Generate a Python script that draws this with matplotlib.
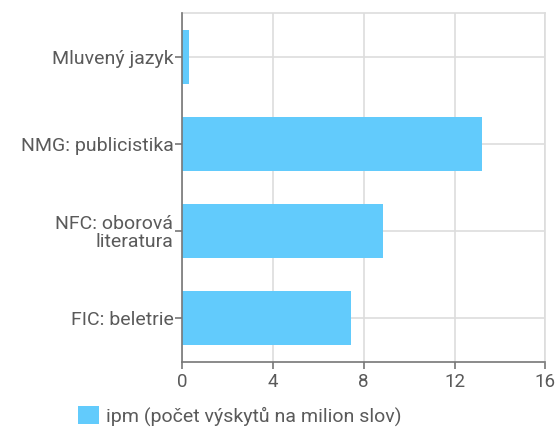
import matplotlib
matplotlib.use('Agg')
import matplotlib.pyplot as plt
from matplotlib.patches import Patch

# data
categories = ['Mluvený jazyk', 'NMG: publicistika', 'NFC: oborová\nliteratura', 'FIC: beletrie']
ipm = [0.3, 13.2, 8.85, 7.45]
xticks = [0, 4, 8, 12, 16]
legend_label = 'ipm (počet výskytů na milion slov)'

plt.rcParams['font.family'] = ['Roboto', 'DejaVu Sans']
text_col = '#5a5a5a'
bar_col = '#62cbfc'

fig = plt.figure(figsize=(5.56, 4.32), dpi=100)
ax = fig.add_axes([0.327, 0.162, 0.654, 0.808])

ypos = list(range(len(categories)))
ax.barh(ypos, ipm, height=0.62, color=bar_col, zorder=3)
ax.set_ylim(len(categories) - 0.5, -0.5)
ax.set_xlim(0, 16)
ax.set_xticks(xticks)
ax.set_xticklabels([str(v) for v in xticks])
ax.set_yticks(ypos)
ax.set_yticklabels(categories, ha='right', multialignment='right', linespacing=1.0)

ax.grid(True, color='#dddddd', linewidth=1.2, zorder=0)
for side in ['top', 'right']:
    ax.spines[side].set_color('#dddddd')
    ax.spines[side].set_linewidth(1.2)
for side in ['left', 'bottom']:
    ax.spines[side].set_color('#777777')
    ax.spines[side].set_linewidth(1.2)
    ax.spines[side].set_zorder(4)

ax.tick_params(axis='both', colors='#777777', labelcolor=text_col, labelsize=14,
               length=5, width=1.2, pad=1)
ax.tick_params(axis='x', pad=3, labelsize=13.5)

handles = [Patch(facecolor=bar_col, edgecolor='none', label=legend_label)]
fig.legend(handles=handles, loc='lower left', bbox_to_anchor=(0.108, -0.026),
           frameon=False, fontsize=14, labelcolor=text_col,
           handlelength=1.1, handleheight=1.0, handletextpad=0.35)

fig.savefig('out.png', dpi=100)
